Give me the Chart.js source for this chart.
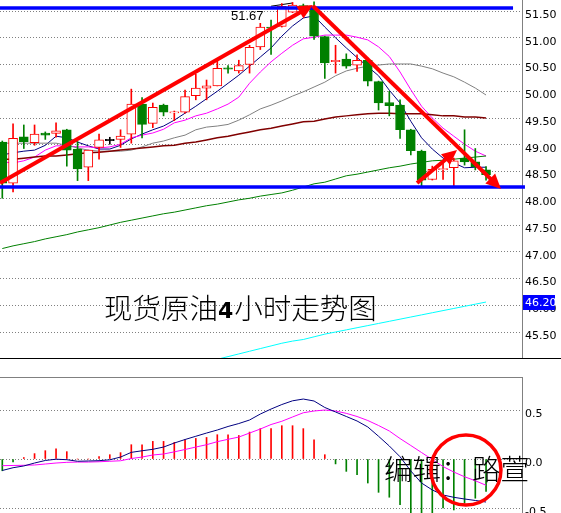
<!DOCTYPE html>
<html>
<head>
<meta charset="utf-8">
<script src="https://cdn.jsdelivr.net/npm/chart.js@4.4.0/dist/chart.umd.min.js"></script>
<style>
  html, body { margin: 0; padding: 0; background: #fff; }
  #wrap { position: relative; width: 561px; height: 513px; overflow: hidden; background: #fff; }
  #priceChart { position: absolute; left: 0; top: 0; }
  #macdChart { position: absolute; left: 0; top: 377px; }
</style>
</head>
<body>
<div id="wrap">
  <canvas id="priceChart" width="561" height="359" style="width:561px;height:359px"></canvas>
  <canvas id="macdChart" width="561" height="136" style="width:561px;height:136px"></canvas>
</div>
<script>
// 4-hour candles, oldest first
const opens  = [49.05, 48.28, 49.15, 49.04, 49.22, 49.21, 49.28, 48.92, 48.58, 48.95, 49.09, 49.10, 49.20, 49.76, 49.40, 49.74, 49.60, 49.61, 49.92, 50.06, 50.10, 50.43, 50.38, 50.50, 50.83, 51.20, 51.21, 51.48, 51.60, 51.58, 51.02, 50.56, 50.60, 50.49, 50.58, 50.18, 49.79, 49.74, 49.28, 48.88, 48.35, 48.54, 48.57, 48.75, 48.68, 48.53];
const highs  = [49.07, 49.39, 49.37, 49.37, 49.24, 49.41, 49.29, 49.06, 48.90, 49.20, 49.14, 49.28, 50.04, 49.88, 49.78, 49.76, 49.63, 50.02, 50.32, 50.21, 50.58, 50.48, 50.58, 50.86, 51.27, 51.33, 51.64, 51.66, 51.63, 51.67, 51.03, 50.86, 50.70, 50.68, 50.62, 50.19, 50.00, 49.84, 49.29, 48.90, 48.60, 48.70, 48.75, 49.28, 48.93, 48.59];
const lows   = [48.00, 48.12, 48.93, 48.99, 49.10, 49.14, 48.60, 48.33, 48.33, 48.73, 49.01, 48.95, 49.03, 49.13, 49.32, 49.54, 49.45, 49.59, 49.84, 49.84, 50.10, 50.34, 50.34, 50.34, 50.78, 50.69, 51.20, 51.47, 51.56, 50.97, 50.24, 50.34, 50.43, 50.37, 50.10, 49.65, 49.54, 49.12, 48.81, 48.22, 48.34, 48.35, 48.22, 48.62, 48.53, 48.34];
const closes = [48.28, 49.12, 49.06, 49.20, 49.18, 49.26, 48.90, 48.55, 48.90, 49.09, 49.09, 49.16, 49.76, 49.38, 49.70, 49.61, 49.61, 49.90, 50.06, 50.10, 50.43, 50.42, 50.48, 50.82, 51.20, 51.18, 51.59, 51.61, 51.57, 51.03, 50.53, 50.57, 50.47, 50.58, 50.19, 49.78, 49.73, 49.28, 48.89, 48.34, 48.54, 48.55, 48.70, 48.68, 48.59, 48.44];

// moving averages drawn on the price panel
const maNavy    = [48.81, 48.85, 48.88, 48.90, 48.99, 49.16, 49.13, 49.05, 48.98, 48.92, 48.92, 48.99, 49.11, 49.20, 49.28, 49.35, 49.46, 49.59, 49.72, 49.86, 50.00, 50.15, 50.30, 50.47, 50.64, 50.81, 51.03, 51.22, 51.37, 51.41, 51.20, 51.00, 50.81, 50.63, 50.46, 50.29, 50.02, 49.78, 49.44, 49.13, 48.92, 48.75, 48.66, 48.57, 48.58, 48.58];
const maMagenta = [48.68, 48.66, 48.70, 48.77, 48.90, 48.98, 48.98, 48.96, 48.96, 48.94, 48.96, 49.01, 49.13, 49.18, 49.22, 49.29, 49.41, 49.46, 49.54, 49.59, 49.67, 49.76, 49.89, 50.15, 50.36, 50.55, 50.71, 50.86, 50.98, 51.01, 51.05, 51.05, 51.05, 51.01, 50.96, 50.83, 50.65, 50.36, 50.03, 49.72, 49.50, 49.31, 49.16, 49.01, 48.88, 48.79];
const maGray    = [49.03, 49.03, 49.03, 49.03, 49.03, 49.03, 48.99, 48.94, 48.90, 48.88, 48.88, 48.88, 48.90, 48.96, 49.03, 49.07, 49.13, 49.18, 49.28, 49.33, 49.35, 49.38, 49.46, 49.56, 49.67, 49.74, 49.82, 49.91, 49.99, 50.08, 50.17, 50.29, 50.38, 50.43, 50.47, 50.49, 50.51, 50.51, 50.51, 50.47, 50.42, 50.34, 50.27, 50.17, 50.06, 49.93];
const maMaroon  = [48.73, 48.73, 48.75, 48.77, 48.79, 48.79, 48.81, 48.83, 48.85, 48.86, 48.88, 48.90, 48.92, 48.94, 48.96, 48.98, 48.99, 49.03, 49.05, 49.09, 49.13, 49.16, 49.20, 49.24, 49.28, 49.31, 49.35, 49.39, 49.43, 49.44, 49.48, 49.52, 49.54, 49.56, 49.58, 49.59, 49.59, 49.58, 49.58, 49.58, 49.56, 49.54, 49.54, 49.52, 49.52, 49.50];
const maGreen   = [47.06, 47.11, 47.15, 47.19, 47.24, 47.28, 47.32, 47.37, 47.41, 47.45, 47.50, 47.55, 47.59, 47.63, 47.67, 47.71, 47.74, 47.78, 47.82, 47.86, 47.89, 47.93, 47.97, 48.00, 48.04, 48.07, 48.10, 48.15, 48.21, 48.27, 48.30, 48.36, 48.42, 48.45, 48.49, 48.53, 48.57, 48.60, 48.64, 48.67, 48.70, 48.71, 48.73, 48.75, 48.77, 48.79];
const maCyan    = [null, null, null, null, null, null, null, null, null, null, null, null, null, null, null, null, null, null, null, null, 44.99, 45.04, 45.09, 45.14, 45.19, 45.24, 45.29, 45.33, 45.36, 45.41, 45.46, 45.50, 45.54, 45.58, 45.62, 45.66, 45.70, 45.74, 45.78, 45.82, 45.86, 45.90, 45.94, 45.98, 46.02, 46.06];
const bandTop   = [null, null, null, null, null, null, null, null, null, null, null, null, null, null, null, null, null, null, null, null, null, null, null, null, null, 51.59, 51.62, 51.65, null, null, null, null, null, null, null, null, null, null, null, null, null, null, null, null, null, null];

// MACD panel
const macdHist   = [-0.12, -0.03, 0.015, 0.055, 0.085, 0.105, 0.075, 0, 0, 0.024, 0.044, 0.065, 0.146, 0.146, 0.18, 0.18, 0.17, 0.197, 0.21, 0.22, 0.248, 0.248, 0.24, 0.275, 0.31, 0.31, 0.34, 0.34, 0.31, 0.197, 0.044, -0.05, -0.126, -0.16, -0.245, -0.34, -0.39, -0.466, -0.58, -0.58, -0.58, -0.5, -0.52, -0.45, -0.40, -0.33];
const macdMain   = [-0.117, -0.089, -0.071, -0.041, -0.015, -0.002, -0.007, -0.023, -0.020, -0.017, -0.008, 0.020, 0.068, 0.084, 0.099, 0.122, 0.163, 0.199, 0.232, 0.265, 0.296, 0.332, 0.362, 0.398, 0.459, 0.510, 0.556, 0.594, 0.612, 0.592, 0.526, 0.480, 0.434, 0.388, 0.327, 0.232, 0.133, 0.023, -0.122, -0.245, -0.316, -0.367, -0.391, -0.408, -0.423, -0.439];
const macdSignal = [-0.068, -0.066, -0.064, -0.061, -0.051, -0.041, -0.034, -0.031, -0.031, -0.028, -0.023, -0.018, 0.005, 0.020, 0.041, 0.051, 0.073, 0.097, 0.122, 0.146, 0.177, 0.201, 0.224, 0.265, 0.306, 0.352, 0.385, 0.429, 0.472, 0.490, 0.500, 0.490, 0.466, 0.434, 0.393, 0.342, 0.286, 0.209, 0.138, 0.066, -0.005, -0.077, -0.133, -0.181, -0.222, -0.268];

const priceTicks = [45.5, 46, 46.5, 47, 47.5, 48, 48.5, 49, 49.5, 50, 50.5, 51, 51.5];
const macdTicks = [-0.5, 0, 0.5];

// hand-drawn marks, in [candle index, price]
const levelPrices = [51.556, 48.21];
const levelEnds = [47.51, 48.62];
const arrowFrom = [[-0.21, 48.285], [28.9, 51.594], [38.58, 48.285]];
const arrowTo   = [[28.9, 51.612], [46.39, 48.173], [42.3, 48.902]];
const markerPrice = 46.20;

const X_MIN = -0.214;
const X_MAX = 48.344;

const cjkFont = '300 28.5px "Noto Sans CJK SC"';

function xy(values) {
    return values.map((v, i) => ({ x: i, y: v }));
}

function bodyRange(i) {
    const o = opens[i], c = closes[i];
    if (Math.abs(o - c) < 0.02) {
        const m = (o + c) / 2;
        return [m - 0.012, m + 0.012];
    }
    return [Math.min(o, c), Math.max(o, c)];
}

function candleColor(i) {
    if (closes[i] > opens[i]) return '#ff0000';
    if (closes[i] < opens[i]) return '#008000';
    return '#000000';
}

function fitAxis(scale) {
    scale.width = 39;
    scale.paddingTop = 0;
    scale.paddingBottom = 0;
}

function lineSet(values, color, width) {
    return {
        type: 'line', data: xy(values), borderColor: color, borderWidth: width,
        pointRadius: 0, tension: 0, fill: false, order: 3
    };
}

function drawArrow(ctx, x1, y1, x2, y2) {
    const a = Math.atan2(y2 - y1, x2 - x1);
    const head = 15, half = 7;
    ctx.save();
    ctx.strokeStyle = '#ff0000';
    ctx.fillStyle = '#ff0000';
    ctx.lineWidth = 4;
    ctx.beginPath();
    ctx.moveTo(x1, y1);
    ctx.lineTo(x2 - Math.cos(a) * head * 0.7, y2 - Math.sin(a) * head * 0.7);
    ctx.stroke();
    const bx = x2 - Math.cos(a) * head, by = y2 - Math.sin(a) * head;
    ctx.beginPath();
    ctx.moveTo(x2, y2);
    ctx.lineTo(bx + Math.sin(a) * half, by - Math.cos(a) * half);
    ctx.lineTo(bx - Math.sin(a) * half, by + Math.cos(a) * half);
    ctx.closePath();
    ctx.fill();
    ctx.restore();
}

// Overlays on the price panel: levels, arrows, texts
const priceOverlay = {
    id: 'priceOverlay',
    afterDatasetsDraw(chart) {
        const ctx = chart.ctx;
        const xs = chart.scales.x, ys = chart.scales.y;

        ctx.save();
        ctx.strokeStyle = '#0000ff';
        ctx.lineWidth = 3.5;
        levelPrices.forEach((p, k) => {
            const y = ys.getPixelForValue(p);
            ctx.beginPath();
            ctx.moveTo(0, y);
            ctx.lineTo(xs.getPixelForValue(levelEnds[k]), y);
            ctx.stroke();
        });
        ctx.restore();

        arrowFrom.forEach((f, k) => {
            const t = arrowTo[k];
            drawArrow(ctx, xs.getPixelForValue(f[0]), ys.getPixelForValue(f[1]),
                xs.getPixelForValue(t[0]), ys.getPixelForValue(t[1]));
        });

        ctx.save();
        ctx.fillStyle = '#000';
        ctx.textBaseline = 'alphabetic';
        ctx.font = '13px "Liberation Sans"';
        ctx.fillText('51.67', 231, 20);

        // title, the digit is set in bold
        let x = 104;
        ctx.font = cjkFont;
        ctx.fillText('现货原油', x, 319);
        x += ctx.measureText('现货原油').width;
        ctx.font = 'bold 22px "DejaVu Sans"';
        ctx.fillText('4', x, 318);
        x += ctx.measureText('4').width + 1;
        ctx.font = cjkFont;
        ctx.fillText('小时走势图', x, 319);
        ctx.restore();
    },
    afterDraw(chart) {
        const ctx = chart.ctx;
        const ys = chart.scales.y;
        const top = Math.round(ys.getPixelForValue(markerPrice));
        ctx.save();
        ctx.fillStyle = '#0000ff';
        ctx.fillRect(523, top, 32, 15);
        ctx.fillStyle = '#ffffff';
        ctx.font = '11px "DejaVu Sans"';
        ctx.textBaseline = 'middle';
        ctx.fillText(markerPrice.toFixed(2), 525, top + 8);
        ctx.fillStyle = '#000';
        ctx.fillRect(0, 358, 561, 1);
        ctx.restore();
    }
};

const macdOverlay = {
    id: 'macdOverlay',
    afterDatasetsDraw(chart) {
        const ctx = chart.ctx;
        const xs = chart.scales.x, ys = chart.scales.y;
        ctx.save();
        ctx.fillStyle = '#000';
        ctx.font = cjkFont;
        ctx.textBaseline = 'alphabetic';
        ctx.fillText('编辑：', 384, 103);
        ctx.fillText('路萱', 472, 103);

        ctx.strokeStyle = '#ff0000';
        ctx.lineWidth = 3.5;
        ctx.beginPath();
        ctx.arc(xs.getPixelForValue(43.13), ys.getPixelForValue(-0.112), 35, 0, Math.PI * 2);
        ctx.stroke();

        ctx.fillStyle = '#808080';
        ctx.fillRect(0, 0, 523, 1);
        ctx.restore();
    }
};

const tickFont = { family: 'DejaVu Sans', size: 11 };

new Chart(document.getElementById('priceChart'), {
    type: 'bar',
    data: {
        datasets: [
            lineSet(maCyan, '#00ffff', 1),
            lineSet(maGreen, '#008000', 1),
            lineSet(maMaroon, '#800000', 1.5),
            lineSet(maGray, '#808080', 1),
            lineSet(maMagenta, '#ff00ff', 1),
            lineSet(maNavy, '#000080', 1),
            lineSet(bandTop, '#000000', 1),
            {
                // wicks
                data: opens.map((o, i) => ({ x: i, y: [lows[i], highs[i]] })),
                backgroundColor: opens.map((o, i) => candleColor(i)),
                borderWidth: 0, barThickness: 1, maxBarThickness: 1,
                grouped: false, order: 1
            },
            {
                // bodies
                data: opens.map((o, i) => ({ x: i, y: bodyRange(i) })),
                backgroundColor: opens.map((o, i) => closes[i] > opens[i] ? '#ffffff' : candleColor(i)),
                borderColor: opens.map((o, i) => candleColor(i)),
                borderWidth: 1, borderSkipped: false,
                barThickness: 9, maxBarThickness: 9,
                grouped: false, order: 0
            }
        ]
    },
    options: {
        responsive: false,
        animation: false,
        devicePixelRatio: 1,
        layout: { padding: { left: 0, right: 0, top: 0, bottom: 1 } },
        plugins: { legend: { display: false }, tooltip: { enabled: false } },
        scales: {
            x: { type: 'linear', min: X_MIN, max: X_MAX, offset: false, display: false, grid: { offset: false } },
            y: {
                position: 'right',
                min: 45.014,
                max: 51.706,
                afterBuildTicks: s => { s.ticks = priceTicks.map(v => ({ value: v })); },
                afterFit: fitAxis,
                grid: { color: '#808080', drawTicks: false },
                border: { display: true, color: '#808080', dash: [1, 2] },
                ticks: {
                    padding: 3, labelOffset: 4, color: '#000', font: tickFont,
                    callback: v => Number(v).toFixed(2)
                }
            }
        }
    },
    plugins: [priceOverlay]
});

new Chart(document.getElementById('macdChart'), {
    type: 'bar',
    data: {
        datasets: [
            {
                type: 'line', data: xy(macdMain), borderColor: '#000080', borderWidth: 1,
                pointRadius: 0, tension: 0, order: 0
            },
            {
                type: 'line', data: xy(macdSignal), borderColor: '#ff00ff', borderWidth: 1,
                pointRadius: 0, tension: 0, order: 0
            },
            {
                data: xy(macdHist),
                backgroundColor: macdHist.map(v => v >= 0 ? '#ff0000' : '#008000'),
                borderWidth: 0, barThickness: 1, maxBarThickness: 1,
                grouped: false, order: 1
            }
        ]
    },
    options: {
        responsive: false,
        animation: false,
        devicePixelRatio: 1,
        layout: { padding: 0 },
        plugins: { legend: { display: false }, tooltip: { enabled: false } },
        scales: {
            x: { type: 'linear', min: X_MIN, max: X_MAX, offset: false, display: false, grid: { offset: false } },
            y: {
                position: 'right',
                min: -0.551,
                max: 0.837,
                afterBuildTicks: s => { s.ticks = macdTicks.map(v => ({ value: v })); },
                afterFit: fitAxis,
                grid: { color: '#808080', drawTicks: false },
                border: { display: true, color: '#808080', dash: [1, 2] },
                ticks: {
                    padding: 3, labelOffset: 4, color: '#000', font: tickFont,
                    callback: v => Number(v).toFixed(1)
                }
            }
        }
    },
    plugins: [macdOverlay]
});
</script>
</body>
</html>
